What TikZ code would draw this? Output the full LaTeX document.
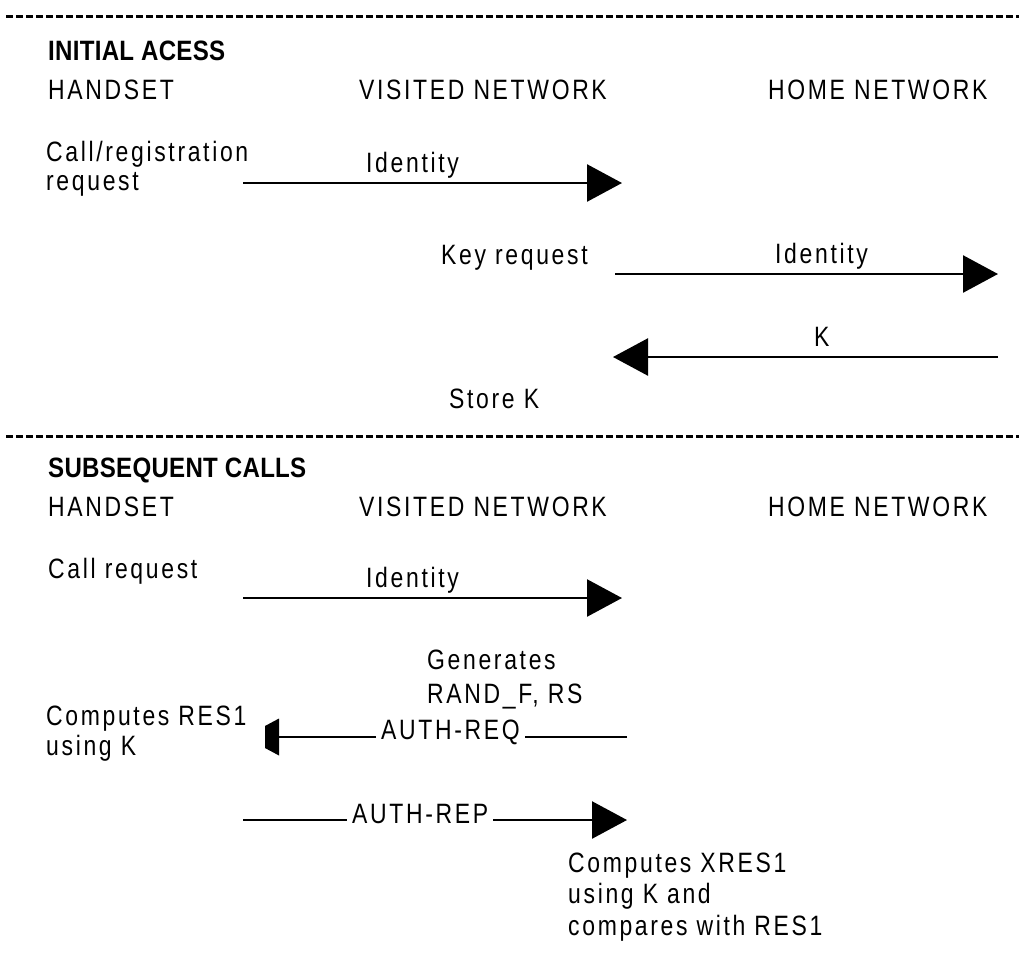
\documentclass[tikz,border=0pt]{standalone}
\usepackage{fontspec}
\setmainfont[FakeStretch=0.82,LetterSpace=9.5]{Liberation Sans}
\newfontfamily\headfont[FakeStretch=0.86,LetterSpace=1]{Liberation Sans}
\usetikzlibrary{arrows.meta}
\begin{document}
\begin{tikzpicture}[x=1pt,y=-1pt,
  txt/.style={anchor=base west,inner sep=0pt,font=\fontsize{28}{32}\selectfont},
  head/.style={anchor=base west,inner sep=0pt,font=\headfont\bfseries\fontsize{28}{32}\selectfont},
  lbl/.style={anchor=base west,inner ysep=3pt,inner xsep=5pt,fill=white,font=\fontsize{28}{32}\selectfont},
  sep/.style={line width=3pt,dash pattern=on 7pt off 3pt},
  msg/.style={line width=2.5pt,-{Triangle[length=35pt,width=37pt]}},
  plain/.style={line width=2.5pt}]
\useasboundingbox (0,0) rectangle (1019,954);
% separators
\coordinate (s1l) at (6,16); \coordinate (s1r) at (1019,16);
\coordinate (s2l) at (6,436); \coordinate (s2r) at (1019,436);
\draw[sep] (s1l) -- (s1r);
\draw[sep] (s2l) -- (s2r);
% ---- initial access
\node[head] (ia) at (48,60) {INITIAL ACESS};
\node[txt] (hs1) at (48,99) {HANDSET};
\node[txt] (vn1) at (359,99) {VISITED NETWORK};
\node[txt] (hn1) at (768,99) {HOME NETWORK};
\node[txt] (creg) at (46,161) {Call/registration};
\node[txt] (creq) at (46,190) {request};
\node[txt] (id1) at (366,172) {Identity};
\coordinate (a1s) at (243,183); \coordinate (a1e) at (622,183);
\draw[msg] (a1s) -- (a1e);
\node[txt] (kreq) at (441,264) {Key request};
\node[txt] (id2) at (775,263) {Identity};
\coordinate (a2s) at (615,274); \coordinate (a2e) at (998,274);
\draw[msg] (a2s) -- (a2e);
\node[txt] (k) at (814,346) {K};
\coordinate (a3s) at (998,357); \coordinate (a3e) at (613,357);
\draw[msg] (a3s) -- (a3e);
\node[txt] (stk) at (449,408) {Store K};
% ---- subsequent calls
\node[head] (sc) at (48,477) {SUBSEQUENT CALLS};
\node[txt] (hs2) at (48,516) {HANDSET};
\node[txt] (vn2) at (359,516) {VISITED NETWORK};
\node[txt] (hn2) at (768,516) {HOME NETWORK};
\node[txt] (callr) at (48,578) {Call request};
\node[txt] (id3) at (366,587) {Identity};
\coordinate (a4s) at (243,598); \coordinate (a4e) at (622,598);
\draw[msg] (a4s) -- (a4e);
\node[txt] (gen) at (427,669) {Generates};
\node[txt] (rand) at (427,703) {RAND\_F, RS};
\node[txt] (cres) at (46,725) {Computes RES1};
\node[txt] (usk) at (46,755) {using K};
% AUTH-REQ
\coordinate (rqR) at (627,737); \coordinate (rqL) at (279,737);
\node[lbl] (areq) at (376,739) {AUTH-REQ};
\draw[plain] (rqR) -- (areq.east |- rqR);
\draw[plain] (areq.west |- rqL) -- (rqL);
\fill (279,718.5) -- (279,755.5) -- (265,748) -- (265,726) -- cycle;
% AUTH-REP
\coordinate (rpL) at (243,820); \coordinate (rpR) at (627,820);
\node[lbl] (arep) at (347,823) {AUTH-REP};
\draw[plain] (rpL) -- (arep.west |- rpL);
\draw[msg] (arep.east |- rpR) -- (rpR);
\node[txt] (cx1) at (568,872) {Computes XRES1};
\node[txt] (cx2) at (568,903) {using K and};
\node[txt] (cx3) at (568,935) {compares with RES1};
\end{tikzpicture}
\end{document}
